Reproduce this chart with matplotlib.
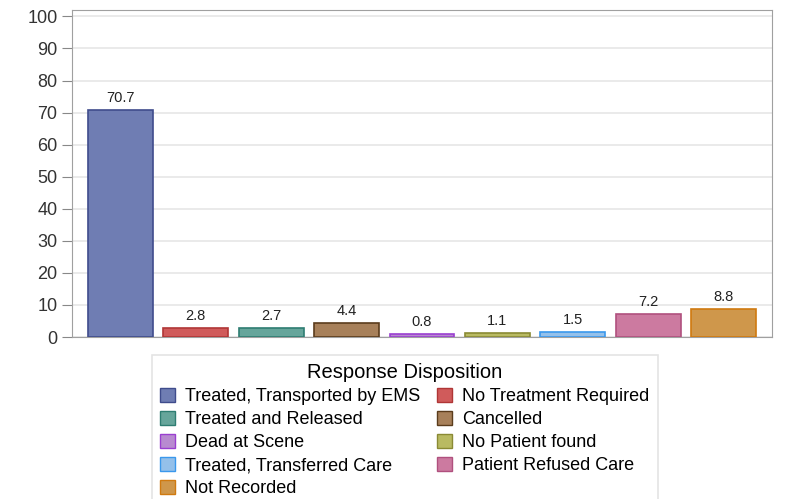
import matplotlib
matplotlib.use("Agg")
import matplotlib.pyplot as plt
from matplotlib.patches import Patch

plt.rcParams['font.family'] = ['Liberation Sans', 'DejaVu Sans']

categories = ["Treated, Transported by EMS", "No Treatment Required",
              "Treated and Released", "Cancelled", "Dead at Scene",
              "No Patient found", "Treated, Transferred Care",
              "Patient Refused Care", "Not Recorded"]
values = [70.7, 2.8, 2.7, 4.4, 0.8, 1.1, 1.5, 7.2, 8.8]
labels = ["70.7", "2.8", "2.7", "4.4", "0.8", "1.1", "1.5", "7.2", "8.8"]

fills = ["#6f7db3", "#d05b5b", "#66a59b", "#a7805a", "#b88ad0",
         "#b9ba62", "#94c0ea", "#cc7aa0", "#cf974b"]
edges = ["#3f4c8c", "#b03636", "#2e7d72", "#5b3c1c", "#9a3fd0",
         "#8a8a34", "#3a98ec", "#b0507e", "#d07a10"]

fig = plt.figure(figsize=(7.85, 4.99), dpi=100)
ax = fig.add_axes([72 / 785, 1 - 337 / 499, 700 / 785, 327 / 499])

x = range(len(values))
ax.bar(x, values, width=0.86, color=fills, edgecolor=edges, linewidth=1.2, zorder=3)
for i, v in enumerate(values):
    ax.text(i, v + 1.6, labels[i], ha='center', va='bottom', fontsize=10.5, color='#222222')

ax.set_xlim(-0.64, 8.64)
ax.set_ylim(0, 102)
ax.set_yticks(range(0, 101, 10))
ax.set_xticks([])
ax.grid(axis='y', color='#e6e6e6', linewidth=1.2, zorder=0)
for s in ax.spines.values():
    s.set_color('#a0a0a0')
ax.tick_params(axis='y', length=7, color='#888888', labelsize=13, labelcolor='#333333')

handles = [Patch(facecolor=fills[i], edgecolor=edges[i], label=categories[i])
           for i in range(len(categories))]
# reorder so that entries fill row by row in 2 columns
order = [0, 2, 4, 6, 8, 1, 3, 5, 7]
leg = fig.legend([handles[i] for i in order], [categories[i] for i in order],
                 ncol=2, loc='upper left', bbox_to_anchor=(152 / 785, 1 - 355 / 499),
                 borderaxespad=0,
                 title="Response Disposition", fontsize=13, title_fontsize=14.5,
                 frameon=True, fancybox=False, edgecolor='#dddddd',
                 handlelength=0.85, handleheight=0.85, handletextpad=0.55,
                 columnspacing=0.9, labelspacing=0.31, borderpad=0.45)
leg.get_frame().set_linewidth(1.2)

fig.savefig("out.png", dpi=100)
